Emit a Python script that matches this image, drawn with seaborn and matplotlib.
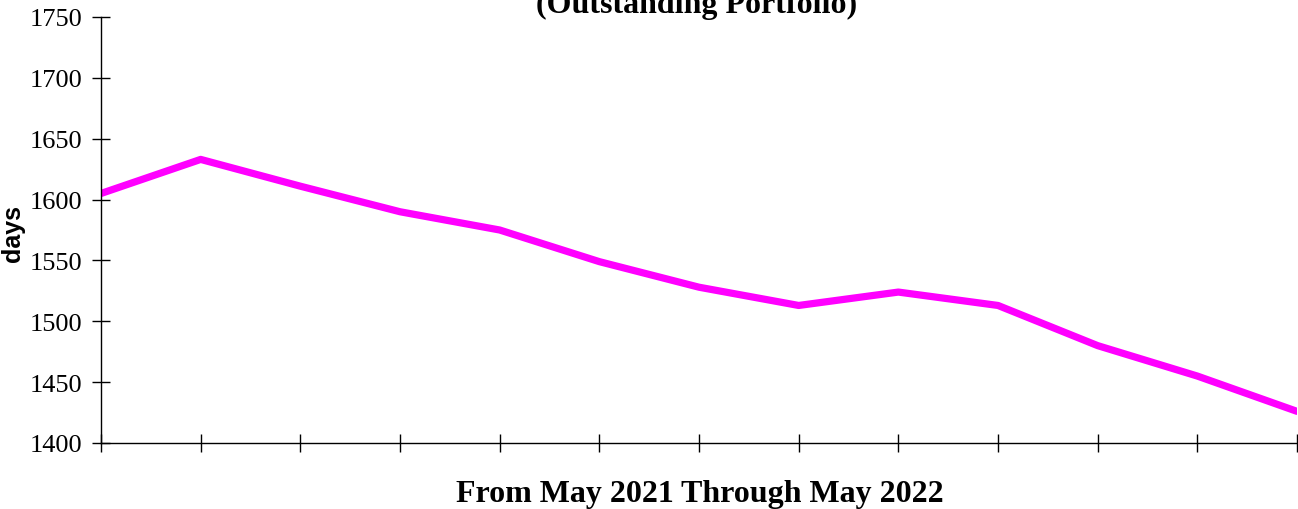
import matplotlib
matplotlib.use("Agg")
import matplotlib.pyplot as plt
import seaborn as sns
import pandas as pd

months = ["May 2021", "Jun 2021", "Jul 2021", "Aug 2021", "Sep 2021", "Oct 2021",
          "Nov 2021", "Dec 2021", "Jan 2022", "Feb 2022", "Mar 2022", "Apr 2022", "May 2022"]
days = [1605, 1633, 1611, 1590, 1575, 1549, 1528, 1513, 1524, 1513, 1480, 1455, 1426]
y_ticks = [1400, 1450, 1500, 1550, 1600, 1650, 1700, 1750]

sns.set_theme(style="white")
plt.rcParams['font.family'] = ['Liberation Serif', 'DejaVu Serif']
plt.rcParams['text.color'] = 'black'
plt.rcParams['axes.labelcolor'] = 'black'
plt.rcParams['xtick.color'] = 'black'
plt.rcParams['ytick.color'] = 'black'

df = pd.DataFrame({"idx": range(len(months)), "days": days, "month": months})

fig = plt.figure(figsize=(12.98, 5.10), dpi=100)
ax = fig.add_axes([101/1298, 1 - 444/510, (1297 - 101)/1298, (444 - 18)/510])
sns.lineplot(data=df, x="idx", y="days", ax=ax, color="#FF00FF", linewidth=5.2)

ax.set_xlim(0, len(months) - 1)
ax.set_ylim(y_ticks[0], y_ticks[-1])
ax.set_yticks(y_ticks)
ax.set_yticklabels([str(v) for v in y_ticks], fontsize=19)
ax.set_xticks(list(range(len(months))))
ax.set_xticklabels([])
ax.tick_params(axis='both', direction='inout', length=13, width=1, color='black', bottom=True, left=True)
ax.tick_params(axis='y', pad=7)

for s in ["top", "right"]:
    ax.spines[s].set_visible(False)
for s in ["left", "bottom"]:
    ax.spines[s].set_color("black")
    ax.spines[s].set_linewidth(1)

ax.set_xlabel("")
ax.set_ylabel("days", fontsize=18, fontweight="bold", fontfamily="Liberation Sans")
ax.yaxis.set_label_coords(-0.0635, 0.493)

fig.text(0.537, 1 - 13/510, "(Outstanding Portfolio)", ha="center", va="baseline",
         fontsize=23, fontweight="bold")
fig.text(0.539, 1 - 502/510, "From May 2021 Through May 2022", ha="center", va="baseline",
         fontsize=23, fontweight="bold")

fig.savefig("out.png", dpi=100, facecolor="white")
